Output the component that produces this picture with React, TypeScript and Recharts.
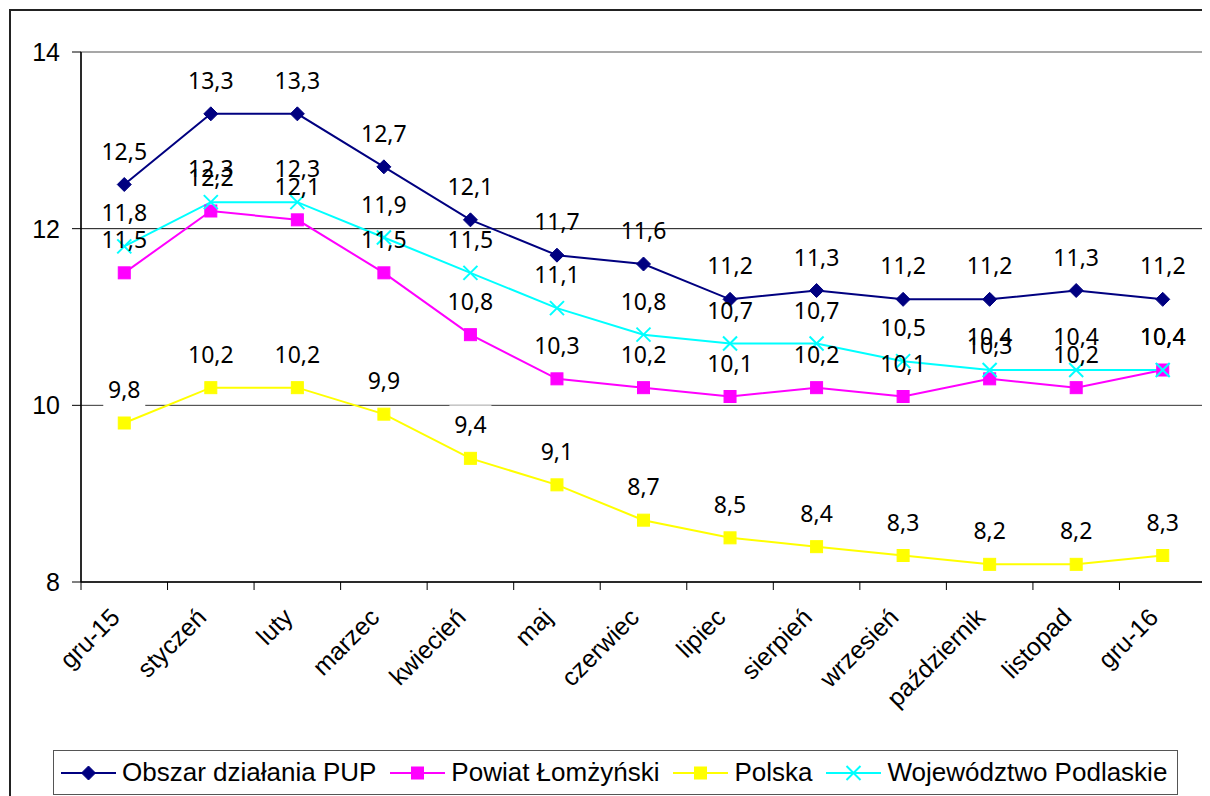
import React from 'react';
import {
  LineChart,
  Line,
  XAxis,
  YAxis,
  ReferenceLine,
  ReferenceArea,
  LabelList,
} from 'recharts';

const months = [
  'gru-15', 'styczeń', 'luty', 'marzec', 'kwiecień', 'maj', 'czerwiec',
  'lipiec', 'sierpień', 'wrzesień', 'październik', 'listopad', 'gru-16',
];
const obszarPUP = [12.5, 13.3, 13.3, 12.7, 12.1, 11.7, 11.6, 11.2, 11.3, 11.2, 11.2, 11.3, 11.2];
const powiatLomzynski = [11.5, 12.2, 12.1, 11.5, 10.8, 10.3, 10.2, 10.1, 10.2, 10.1, 10.3, 10.2, 10.4];
const polska = [9.8, 10.2, 10.2, 9.9, 9.4, 9.1, 8.7, 8.5, 8.4, 8.3, 8.2, 8.2, 8.3];
const podlaskie = [11.8, 12.3, 12.3, 11.9, 11.5, 11.1, 10.8, 10.7, 10.7, 10.5, 10.4, 10.4, 10.4];
const yTicks = [8, 10, 12, 14];

const W = 1202;
const H = 788;
const Y_AXIS_W = 73;
const M_TOP = 44;
const M_RIGHT = 4;
const X_AXIS_H = 214;
const PLOT_W = W - Y_AXIS_W - M_RIGHT;
const BAND = PLOT_W / months.length;
const ARIAL = "'Liberation Sans', Arial, sans-serif";

const SERIES = [
  { key: 'pup', name: 'Obszar działania PUP', color: '#000080', marker: 'diamond', values: obszarPUP },
  { key: 'powiat', name: 'Powiat Łomżyński', color: '#FF00FF', marker: 'square', values: powiatLomzynski },
  { key: 'polska', name: 'Polska', color: '#FFFF00', marker: 'square', values: polska },
  { key: 'podlaskie', name: 'Województwo Podlaskie', color: '#00FFFF', marker: 'x', values: podlaskie },
];

const data = months.map((m, i) => {
  const row: Record<string, string | number> = { month: m };
  SERIES.forEach((s) => {
    row[s.key] = s.values[i];
  });
  return row;
});

const fmt = (v: number) => v.toFixed(1).replace('.', ',');

function Marker({ type, color, cx, cy }: { type: string; color: string; cx: number; cy: number }) {
  if (type === 'diamond') {
    const r = 7;
    return <polygon points={`${cx},${cy - r} ${cx + r},${cy} ${cx},${cy + r} ${cx - r},${cy}`} fill={color} stroke={color} />;
  }
  if (type === 'square') {
    return <rect x={cx - 6} y={cy - 6} width={12} height={12} fill={color} stroke={color} />;
  }
  const r = 7;
  return (
    <g stroke={color} strokeWidth={2}>
      <line x1={cx - r} y1={cy - r} x2={cx + r} y2={cy + r} />
      <line x1={cx - r} y1={cy + r} x2={cx + r} y2={cy - r} />
    </g>
  );
}

// etykiety danych nad punktami; Polska ma białe tło (przerywa linię siatki)
const makeLabel = (boxed: boolean) => (p: any) => {
  const { x, y, value, index } = p;
  if (x == null || y == null) return null;
  const text = fmt(Number(value));
  const cy = y - 34;
  const bw = text.length * 11 + 9;
  return (
    <g key={`lbl-${index}`}>
      {boxed && <rect x={x - bw / 2} y={cy - 19} width={bw} height={38} fill="#fff" />}
      <text
        x={x}
        y={cy}
        textAnchor="middle"
        dominantBaseline="central"
        fontFamily="'Noto Sans', sans-serif"
        fontSize={23}
        fill="#000"
      >
        {text}
      </text>
    </g>
  );
};

function XTick(props: any) {
  const { x, y, payload, index } = props;
  const last = index === months.length - 1;
  const ax = x - 3;
  const ay = y + 37;
  return (
    <g>
      <line x1={x - BAND / 2} y1={y} x2={x - BAND / 2} y2={y + 8} stroke="#000" />
      {last && <line x1={x + BAND / 2} y1={y} x2={x + BAND / 2} y2={y + 8} stroke="#000" />}
      <text
        x={ax}
        y={ay}
        transform={`rotate(-45, ${ax}, ${ay})`}
        textAnchor="end"
        fontFamily={ARIAL}
        fontSize={25}
        fill="#000"
      >
        {payload.value}
      </text>
    </g>
  );
}

function LegendBox() {
  return (
    <div
      style={{
        position: 'absolute',
        left: 45,
        top: 742,
        width: 1125,
        height: 45,
        border: '1.5px solid #555',
        boxSizing: 'border-box',
        display: 'flex',
        alignItems: 'center',
        paddingLeft: 7,
        fontFamily: ARIAL,
        fontSize: 26,
        color: '#000',
        background: '#fff',
      }}
    >
      {SERIES.map((s) => (
        <div key={s.key} style={{ display: 'flex', alignItems: 'center', marginRight: 14 }}>
          <svg width={55} height={20} style={{ marginRight: 6 }}>
            <line x1={0} y1={10} x2={55} y2={10} stroke={s.color} strokeWidth={2} />
            <Marker type={s.marker} color={s.color} cx={27.5} cy={10} />
          </svg>
          <span style={{ whiteSpace: 'nowrap' }}>{s.name}</span>
        </div>
      ))}
    </div>
  );
}

export default function App() {
  return (
    <div style={{ position: 'relative', width: W, height: H, overflow: 'hidden', background: '#fff' }}>
      <div
        style={{
          position: 'absolute',
          left: 1,
          top: 1,
          width: W + 20,
          height: H + 20,
          border: '2px solid #222',
        }}
      />
      <div style={{ position: 'absolute', left: 0, top: 0 }}>
        <LineChart
          width={W}
          height={H}
          data={data}
          margin={{ top: M_TOP, right: M_RIGHT, bottom: 0, left: 0 }}
        >
          <ReferenceArea y1={8} y2={14} fill="none" stroke="#8a8a8a" strokeWidth={1.5} ifOverflow="visible" />
          <ReferenceLine y={12} stroke="#111" />
          <ReferenceLine y={10} stroke="#333" />
          <XAxis
            dataKey="month"
            scale="band"
            height={X_AXIS_H}
            interval={0}
            tickLine={false}
            tickSize={0}
            tickMargin={0}
            axisLine={{ stroke: '#000', strokeWidth: 1.5 }}
            tick={<XTick />}
          />
          <YAxis
            width={Y_AXIS_W}
            domain={[8, 14]}
            ticks={yTicks}
            interval={0}
            tickSize={9}
            tickMargin={12}
            axisLine={{ stroke: '#000', strokeWidth: 1.5 }}
            tickLine={{ stroke: '#000' }}
            tick={{ fontSize: 25, fontFamily: ARIAL, fill: '#000' }}
          />
          {SERIES.map((s) => (
            <Line
              key={s.key}
              type="linear"
              dataKey={s.key}
              name={s.name}
              stroke={s.color}
              strokeWidth={2}
              isAnimationActive={false}
              dot={(p: any) => (
                <Marker key={`${s.key}-dot-${p.index}`} type={s.marker} color={s.color} cx={p.cx} cy={p.cy} />
              )}
              activeDot={false}
            >
              <LabelList dataKey={s.key} content={makeLabel(s.key === 'polska')} />
            </Line>
          ))}
        </LineChart>
      </div>
      <LegendBox />
    </div>
  );
}
